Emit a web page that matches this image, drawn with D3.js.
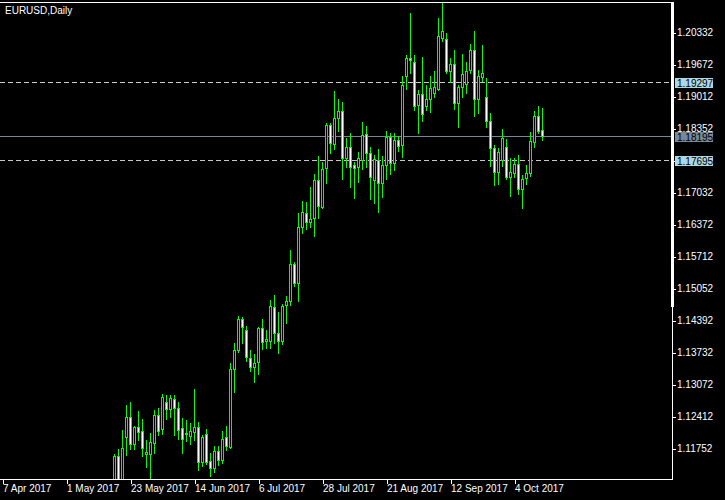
<!DOCTYPE html>
<html><head><meta charset="utf-8">
<script src="https://cdn.jsdelivr.net/npm/d3@7"></script>
<style>html,body{margin:0;padding:0;background:#000;overflow:hidden}svg{display:block}</style>
</head><body>
<svg id="c" width="725" height="500"></svg>
<script>
// ---------- data ----------
const chartTitle = "EURUSD,Daily";
const firstDay = "2017-04-07";
const lastDay = "2017-10-13";
const dataStart = "2017-05-17";
const open = [1.1095,1.1159,1.1102,1.1198,1.1239,1.1184,1.1219,1.1210,1.1163,1.1163,1.1186,1.1243,1.1214,1.1270,1.1256,1.1276,1.1258,1.1216,1.1205,1.1200,1.1208,1.1218,1.1146,1.1204,1.1148,1.1134,1.1169,1.1150,1.1198,1.1177,1.1338,1.1377,1.1441,1.1419,1.1361,1.1342,1.1352,1.1423,1.1396,1.1396,1.1466,1.1412,1.1396,1.1470,1.1478,1.1555,1.1516,1.1631,1.1660,1.1641,1.1649,1.1728,1.1672,1.1753,1.1841,1.1802,1.1856,1.1870,1.1773,1.1796,1.1759,1.1755,1.1769,1.1823,1.1784,1.1728,1.1769,1.1722,1.1759,1.1817,1.1763,1.1810,1.1800,1.1942,1.1979,1.1971,1.1882,1.1905,1.1881,1.1895,1.1907,1.1916,1.2021,1.2019,1.1953,1.1967,1.1887,1.1920,1.1926,1.1955,1.1996,1.1895,1.1940,1.1899,1.1850,1.1794,1.1744,1.1769,1.1796,1.1734,1.1742,1.1761,1.1709,1.1732,1.1742,1.1806,1.1860,1.1831];
const high = [1.1163,1.1173,1.1212,1.1264,1.1270,1.1221,1.1252,1.1235,1.1192,1.1206,1.1254,1.1258,1.1287,1.1285,1.1285,1.1285,1.1270,1.1237,1.1233,1.1227,1.1297,1.1229,1.1202,1.1214,1.1165,1.1179,1.1179,1.1210,1.1221,1.1351,1.1392,1.1448,1.1445,1.1427,1.1377,1.1369,1.1425,1.1441,1.1419,1.1480,1.1491,1.1456,1.1472,1.1489,1.1584,1.1559,1.1660,1.1685,1.1683,1.1714,1.1740,1.1777,1.1765,1.1846,1.1846,1.1911,1.1895,1.1889,1.1815,1.1825,1.1765,1.1786,1.1848,1.1839,1.1796,1.1780,1.1792,1.1778,1.1829,1.1825,1.1825,1.1819,1.1942,1.1986,1.2072,1.1986,1.1914,1.1982,1.1924,1.1942,1.1953,1.2062,1.2093,1.2031,1.1980,1.1996,1.1924,1.1988,1.1971,1.2008,1.2035,1.1955,1.2006,1.1938,1.1866,1.1800,1.1794,1.1833,1.1812,1.1773,1.1773,1.1780,1.1738,1.1759,1.1827,1.1870,1.1880,1.1876];
const low = [1.1076,1.1095,1.1095,1.1161,1.1173,1.1173,1.1192,1.1159,1.1136,1.1105,1.1165,1.1202,1.1204,1.1235,1.1239,1.1202,1.1194,1.1165,1.1190,1.1184,1.1192,1.1130,1.1138,1.1142,1.1117,1.1126,1.1140,1.1144,1.1171,1.1175,1.1291,1.1373,1.1392,1.1355,1.1334,1.1311,1.1328,1.1379,1.1381,1.1381,1.1392,1.1371,1.1390,1.1433,1.1470,1.1509,1.1478,1.1619,1.1627,1.1631,1.1612,1.1649,1.1670,1.1722,1.1784,1.1792,1.1829,1.1730,1.1755,1.1714,1.1691,1.1724,1.1751,1.1755,1.1689,1.1680,1.1662,1.1693,1.1730,1.1740,1.1749,1.1788,1.1775,1.1916,1.1949,1.1872,1.1825,1.1850,1.1872,1.1868,1.1899,1.1914,1.2015,1.1949,1.1930,1.1874,1.1837,1.1899,1.1907,1.1949,1.1860,1.1866,1.1932,1.1837,1.1757,1.1718,1.1720,1.1757,1.1730,1.1695,1.1734,1.1699,1.1670,1.1720,1.1736,1.1796,1.1825,1.1810];
const close = [1.1159,1.1100,1.1175,1.1239,1.1184,1.1219,1.1208,1.1175,1.1167,1.1188,1.1243,1.1210,1.1280,1.1256,1.1278,1.1258,1.1212,1.1194,1.1206,1.1210,1.1219,1.1146,1.1198,1.1146,1.1134,1.1169,1.1150,1.1194,1.1179,1.1338,1.1377,1.1441,1.1425,1.1363,1.1342,1.1350,1.1423,1.1394,1.1400,1.1468,1.1412,1.1396,1.1468,1.1478,1.1555,1.1516,1.1631,1.1662,1.1641,1.1648,1.1728,1.1674,1.1751,1.1841,1.1804,1.1856,1.1870,1.1773,1.1796,1.1755,1.1753,1.1773,1.1821,1.1784,1.1734,1.1771,1.1722,1.1759,1.1817,1.1763,1.1810,1.1798,1.1924,1.1980,1.1975,1.1881,1.1905,1.1864,1.1895,1.1918,1.1920,1.2025,1.2035,1.1953,1.1967,1.1887,1.1920,1.1947,1.1953,1.1996,1.1895,1.1942,1.1949,1.1850,1.1794,1.1744,1.1786,1.1815,1.1734,1.1744,1.1761,1.1709,1.1730,1.1742,1.1808,1.1860,1.1829,1.18195];
const priceTicks = [1.20332,1.19672,1.19012,1.18352,1.17692,1.17032,1.16372,1.15712,1.15052,1.14392,1.13732,1.13072,1.12412,1.11752];
const dateTicks = ["2017-04-07","2017-05-01","2017-05-23","2017-06-14","2017-07-06","2017-07-28","2017-08-21","2017-09-12","2017-10-04"];
const dateTickLabels = ["7 Apr 2017","1 May 2017","23 May 2017","14 Jun 2017","6 Jul 2017","28 Jul 2017","21 Aug 2017","12 Sep 2017","4 Oct 2017"];
const dashedLevels = [1.19297, 1.17695];
const bidLevel = 1.18195;

// ---------- layout ----------
const W = 725, H = 500;
const plotRight = 672, plotTop = 2, plotBottom = 479;
const barStep = 4, firstBarX = 2;
const FONT = "'Liberation Sans', Arial, sans-serif";
const GREEN = "#00ff00", WHITE = "#ffffff";
const LEVEL_COLOR = "#c8c8c8", BOX_COLOR = "#add8e6", BID_COLOR = "#778899";

const svg = d3.select("#c");
svg.append("rect").attr("width", W).attr("height", H).attr("fill", "#000");

const fmt = d3.timeFormat("%Y-%m-%d"), parse = d3.timeParse("%Y-%m-%d");
const days = d3.timeDay.range(parse(firstDay), d3.timeDay.offset(parse(lastDay), 1))
  .filter(d => d.getDay() !== 0 && d.getDay() !== 6).map(fmt);
const startIdx = days.indexOf(dataStart);
const bars = open.map((o, k) => ({date: days[startIdx + k], o, h: high[k], l: low[k], c: close[k]}));

const x = d3.scalePoint().domain(days).range([firstBarX, firstBarX + barStep * (days.length - 1)]);
const y = d3.scaleLinear().domain([priceTicks[priceTicks.length - 1], priceTicks[0]]).range([448, 32]);
const py = v => Math.round(y(v));

svg.append("defs").append("clipPath").attr("id", "plot")
  .append("rect").attr("x", 0).attr("y", plotTop + 1).attr("width", plotRight).attr("height", plotBottom - plotTop - 1);

const g = svg.append("g").attr("clip-path", "url(#plot)").attr("shape-rendering", "crispEdges");

// level lines
g.selectAll("line.lvl").data(dashedLevels).join("line")
  .attr("x1", 0).attr("x2", plotRight)
  .attr("y1", d => py(d) + 0.5).attr("y2", d => py(d) + 0.5)
  .attr("stroke", LEVEL_COLOR).attr("stroke-dasharray", "5,3");
g.append("line").attr("x1", 0).attr("x2", plotRight)
  .attr("y1", py(bidLevel) + 0.5).attr("y2", py(bidLevel) + 0.5)
  .attr("stroke", BID_COLOR);

// candles
const cg = g.selectAll("g.bar").data(bars).join("g");
cg.append("line")
  .attr("x1", d => x(d.date) + 0.5).attr("x2", d => x(d.date) + 0.5)
  .attr("y1", d => py(d.h)).attr("y2", d => py(d.l) + 1)
  .attr("stroke", GREEN);
cg.append("rect")
  .attr("x", d => x(d.date) - 0.5)
  .attr("y", d => py(Math.max(d.o, d.c)) + 0.5)
  .attr("width", 2)
  .attr("height", d => Math.max(0, py(Math.min(d.o, d.c)) - py(Math.max(d.o, d.c))))
  .attr("fill", d => d.c < d.o ? WHITE : "#000")
  .attr("stroke", GREEN);

// frame
const fg = svg.append("g").attr("shape-rendering", "crispEdges");
fg.append("line").attr("x1", 0).attr("x2", plotRight + 1).attr("y1", plotTop + 0.5).attr("y2", plotTop + 0.5).attr("stroke", WHITE);
fg.append("line").attr("x1", 0).attr("x2", plotRight + 1).attr("y1", plotBottom + 0.5).attr("y2", plotBottom + 0.5).attr("stroke", WHITE);
fg.append("line").attr("x1", plotRight + 0.5).attr("x2", plotRight + 0.5).attr("y1", plotTop).attr("y2", plotBottom + 1).attr("stroke", WHITE);
fg.append("rect").attr("x", plotRight - 1).attr("y", plotTop).attr("width", 3).attr("height", 305).attr("fill", WHITE);

// right price axis
const ya = svg.append("g").attr("transform", `translate(${plotRight + 1},0.5)`)
  .call(d3.axisRight(y).tickValues(priceTicks).tickFormat(d3.format(".5f")).tickSize(3).tickPadding(1));
ya.select(".domain").remove();
ya.selectAll("line").attr("stroke", WHITE).attr("shape-rendering", "crispEdges");
ya.selectAll("text").attr("fill", WHITE).style("font-family", FONT).style("font-size", "10px");

// bottom date axis
const xa = svg.append("g").attr("transform", `translate(0.5,${plotBottom + 1})`)
  .call(d3.axisBottom(x).tickValues(dateTicks).tickFormat((d, i) => dateTickLabels[i]).tickSize(4).tickPadding(1));
xa.select(".domain").remove();
xa.selectAll("line").attr("stroke", WHITE).attr("shape-rendering", "crispEdges");
xa.selectAll("text").attr("fill", WHITE).attr("text-anchor", "start").attr("x", 0)
  .style("font-family", FONT).style("font-size", "10px");

// price label boxes
const boxes = dashedLevels.map(v => ({v, fill: BOX_COLOR})).concat([{v: bidLevel, fill: BID_COLOR}]);
const bg = svg.append("g");
bg.selectAll("rect").data(boxes).join("rect")
  .attr("x", plotRight + 3).attr("y", d => py(d.v) - 4).attr("width", 38).attr("height", 10)
  .attr("fill", d => d.fill).attr("shape-rendering", "crispEdges");
bg.selectAll("text").data(boxes).join("text")
  .attr("x", plotRight + 5).attr("y", d => py(d.v) + 4.5)
  .attr("fill", "#000").style("font-family", FONT).style("font-size", "10px")
  .text(d => d3.format(".5f")(d.v));

// title
svg.append("text").attr("x", 5).attr("y", 14).attr("fill", WHITE)
  .style("font-family", FONT).style("font-size", "10px").text(chartTitle);
</script>
</body></html>
